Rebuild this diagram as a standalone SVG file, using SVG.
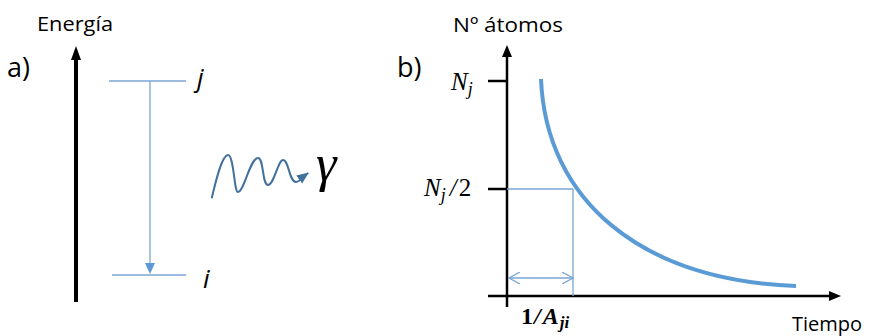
<svg xmlns="http://www.w3.org/2000/svg" width="869" height="336" viewBox="0 0 869 336">
<style>
.lbl{font-family:"Open Sans","Liberation Sans",sans-serif;fill:#000}
.math{font-family:"Liberation Serif",serif;font-style:italic;fill:#000}
.thin{stroke:#7aa6d4;stroke-width:1.3;fill:none}
.axis{stroke:#000;fill:none}
</style>
<defs>
<marker id="ob" markerWidth="12" markerHeight="12" refX="11" refY="6" orient="auto-start-reverse" markerUnits="userSpaceOnUse" viewBox="0 0 12 12"><path d="M0,0 L11,6 L0,12" fill="none" stroke="#7aa6d4" stroke-width="1.2"/></marker>
<marker id="wb" markerWidth="12" markerHeight="12" refX="11" refY="6" orient="auto" markerUnits="userSpaceOnUse" viewBox="0 0 12 12"><path d="M0,1 L12,6 L0,11 Z" fill="#41719c"/></marker>
</defs>

<g id="panel-a">
<text class="lbl" x="37" y="31" font-size="20" textLength="76" lengthAdjust="spacingAndGlyphs">Energía</text>
<text class="lbl" x="7" y="77" font-size="27">a)</text>
<g id="energy-axis"><line class="axis" x1="76" y1="302" x2="76" y2="58" stroke-width="4"/><path d="M71,60 L76,46 L81,60 Z" fill="#000"/></g>
<g id="level-j"><line class="thin" x1="109" y1="81" x2="186" y2="81"/><text class="lbl" x="197" y="87" font-size="26" font-style="italic">j</text></g>
<g id="level-i"><line class="thin" x1="112" y1="275" x2="186" y2="275"/><text class="lbl" x="203" y="288" font-size="26" font-style="italic">i</text></g>
<g id="photon">
<path d="M211.7,198.3 C216,180 222,155 228,155 C234,155 234,192 238,192 C244,192 250,158 258,158 C264,158 262,185 268,185 C274,185 278,160 283,160 C289,160 289,182 296,182 C300,182 304,176 308,173" fill="none" stroke="#41719c" stroke-width="2" marker-end="url(#wb)"/>
<text class="math" x="316" y="181" font-size="52" font-style="normal">γ</text>
</g>
</g>

<g id="connectors">
<line class="thin" x1="150" y1="81" x2="150" y2="264"/>
<path d="M145,263 L150,274 L155,263 Z" fill="#5b9bd5"/>
</g>

<g id="panel-b">
<text class="lbl" x="453" y="32" font-size="20" textLength="110" lengthAdjust="spacingAndGlyphs">Nº átomos</text>
<text class="lbl" x="397" y="77" font-size="27">b)</text>
<g id="y-axis"><line class="axis" x1="507" y1="307" x2="507" y2="56" stroke-width="2.5"/><path d="M502,57 L507,45 L512,57 Z" fill="#000"/></g>
<g id="x-axis"><line class="axis" x1="488" y1="296" x2="830" y2="296" stroke-width="2.5"/><path d="M829,291 L841,296 L829,301 Z" fill="#000"/></g>
<g id="tick-nj"><line class="axis" x1="488" y1="81" x2="507" y2="81" stroke-width="2.5"/><text class="math" x="451" y="90" font-size="25">N<tspan font-size="18" dy="5">j</tspan></text></g>
<g id="tick-nj2"><line class="axis" x1="488" y1="189" x2="507" y2="189" stroke-width="2.5"/><text class="math" x="424" y="196" font-size="25">N<tspan font-size="18" dy="5">j</tspan><tspan dy="-5" dx="4">/</tspan><tspan font-style="normal" dx="2">2</tspan></text></g>
<g id="decay-curve"><path d="M541,79 C546,200 640,280 796,286" fill="none" stroke="#5b9bd5" stroke-width="4"/></g>
<g id="half-life">
<line class="thin" x1="507" y1="189" x2="573" y2="189"/>
<line class="thin" x1="573" y1="189" x2="573" y2="296"/>
<line class="thin" x1="509" y1="278" x2="573" y2="278" marker-start="url(#ob)" marker-end="url(#ob)"/>
<text class="math" x="521" y="324" font-size="24" font-weight="bold"><tspan font-style="normal">1</tspan><tspan dx="1">/</tspan><tspan dx="2">A</tspan><tspan font-size="17" dy="4" dx="1">ji</tspan></text>
</g>
<text class="lbl" x="792" y="331" font-size="20">Tiempo</text>
</g>
</svg>
